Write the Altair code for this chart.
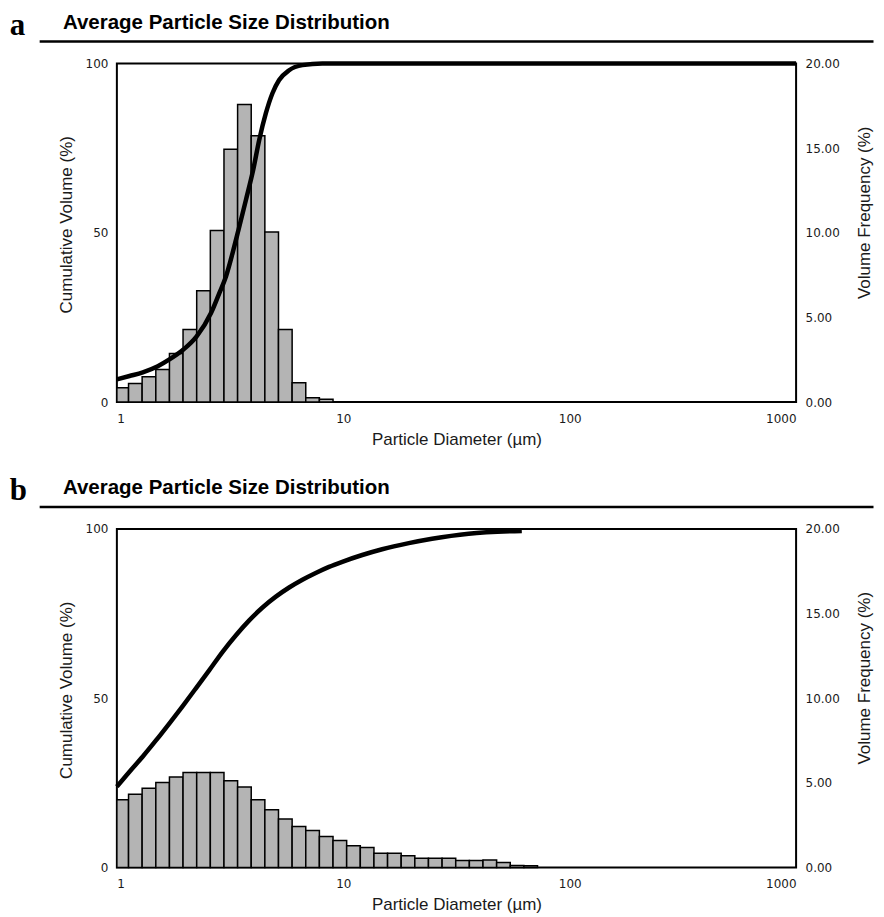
import altair as alt
import pandas as pd

# Bin edges of the size channels (µm)
EDGES = [1.0, 1.126, 1.293, 1.486, 1.707, 1.960, 2.252, 2.587, 2.972, 3.414,
         3.921, 4.504, 5.174, 5.944, 6.828, 7.843, 9.010, 10.35, 11.89, 13.66,
         15.69, 18.02, 20.70, 23.78, 27.32, 31.38, 36.05, 41.41, 47.57, 54.64,
         62.77, 72.10]

# Panel a: volume frequency (%) per channel
FREQ_A = [0.85, 1.10, 1.50, 1.93, 2.87, 4.28, 6.58, 10.13, 14.93, 17.58,
          15.73, 10.04, 4.28, 1.14, 0.26, 0.16]
# Panel a: cumulative volume (%)
CUM_A_D = [1.0, 1.137, 1.302, 1.516, 1.707, 1.967, 2.251, 2.605, 2.835, 3.033,
           3.243, 3.446, 3.715, 4.001, 4.253, 4.551, 4.866, 5.208, 5.766, 6.599,
           8.08, 10.0, 100.0, 1000.0]
CUM_A_V = [6.7, 7.7, 8.8, 10.6, 12.6, 15.5, 19.4, 26.3, 32.2, 37.1,
           44.0, 50.9, 59.7, 68.6, 77.4, 85.3, 91.2, 95.1, 98.0, 99.5,
           100.0, 100.0, 100.0, 100.0]

# Panel b: volume frequency (%) per channel
FREQ_B = [4.00, 4.33, 4.69, 5.02, 5.34, 5.61, 5.61, 5.61, 5.12, 4.75,
          4.00, 3.41, 2.86, 2.42, 2.19, 1.83, 1.60, 1.28, 1.18, 0.85,
          0.85, 0.69, 0.55, 0.55, 0.55, 0.41, 0.41, 0.45, 0.30, 0.12, 0.10]
# Panel b: cumulative volume (%)
CUM_B_D = [1.0, 1.137, 1.302, 1.491, 1.707, 1.953, 2.238, 2.561, 2.931, 3.357,
           3.842, 4.398, 5.037, 5.766, 6.599, 7.556, 8.65, 9.90, 12.13, 14.85,
           19.47, 24.66, 35.79, 61.44]
CUM_B_V = [23.9, 28.3, 32.8, 37.6, 42.6, 47.7, 53.0, 58.3, 63.7, 68.6,
           73.0, 76.8, 80.0, 82.7, 85.0, 87.0, 88.8, 90.3, 92.3, 94.0,
           95.8, 97.1, 98.6, 99.4]

TITLE = "Average Particle Size Distribution"
X_TICKS = [1, 10, 100, 1000]
LEFT_TICKS = [0, 50, 100]
RIGHT_TICKS = [0, 5, 10, 15, 20]

SANS = "Liberation Sans, Arial, sans-serif"
TICKF = "DejaVu Sans, Verdana, sans-serif"
SERIF = "Liberation Serif, Times New Roman, serif"
W, H = 680, 339
TXT = "#1a1a1a"


def panel(letter, freq, cum_d, cum_v):
    n = len(freq)
    bars_df = pd.DataFrame({"lo": EDGES[:n], "hi": EDGES[1:n + 1], "freq": freq})
    cum_df = pd.DataFrame({"d": cum_d, "cum": cum_v})

    xscale = alt.Scale(type="log", domain=[1, 1000], nice=False)
    xaxis = alt.Axis(values=X_TICKS, format="d", title="Particle Diameter (µm)",
                     domain=False, ticks=False, grid=False, labelPadding=11,
                     labelFontSize=12, labelFont=TICKF, labelColor=TXT,
                     titleFont=SANS, titleFontSize=17, titleFontWeight="normal",
                     titleColor=TXT, titleBaseline="alphabetic", titleY=42.5)

    bars = alt.Chart(bars_df).mark_bar(
        fill="#b4b4b4", stroke="black", strokeWidth=1.5
    ).encode(
        x=alt.X("lo:Q", scale=xscale, axis=xaxis),
        x2="hi",
        y=alt.Y("freq:Q", scale=alt.Scale(domain=[0, 20], nice=False),
                axis=alt.Axis(orient="right", values=RIGHT_TICKS, format=".2f",
                              title="Volume Frequency (%)", domain=False,
                              ticks=False, grid=False, labelPadding=9,
                              labelFontSize=12, labelFont=TICKF, labelColor=TXT,
                              titleFont=SANS, titleFontSize=17,
                              titleFontWeight="normal", titleColor=TXT,
                              titleAngle=270, titleBaseline="alphabetic",
                              titleX=73.5, titleY=149)),
        y2=alt.datum(0),
    )

    line = alt.Chart(cum_df).mark_line(
        color="black", strokeWidth=4.5, interpolate="monotone"
    ).encode(
        x=alt.X("d:Q", scale=xscale, axis=xaxis),
        y=alt.Y("cum:Q", scale=alt.Scale(domain=[0, 100], nice=False),
                axis=alt.Axis(orient="left", values=LEFT_TICKS,
                              title="Cumulative Volume (%)", domain=False,
                              ticks=False, grid=False, labelPadding=9,
                              labelFontSize=12, labelFont=TICKF, labelColor=TXT,
                              titleFont=SANS, titleFontSize=17,
                              titleFontWeight="normal", titleColor=TXT,
                              titleAngle=270, titleBaseline="alphabetic",
                              titleX=-45, titleY=161)),
    )

    lab = alt.Chart(pd.DataFrame({"t": [letter]})).mark_text(
        font=SERIF, fontSize=31, fontWeight="bold", align="left",
        baseline="alphabetic", color="black"
    ).encode(x=alt.value(-107.3), y=alt.value(-28.5), text="t:N")

    ttl = alt.Chart(pd.DataFrame({"t": [TITLE]})).mark_text(
        font=SANS, fontSize=20.5, fontWeight="bold", align="left",
        baseline="alphabetic", color="black"
    ).encode(x=alt.value(-54), y=alt.value(-34.5), text="t:N")

    rule = alt.Chart(pd.DataFrame({"t": [0]})).mark_rule(
        color="black", strokeWidth=2.5
    ).encode(x=alt.value(-77.3), x2=alt.value(757.5), y=alt.value(-22))

    return alt.layer(bars, line, lab, ttl, rule).resolve_scale(
        y="independent"
    ).properties(width=W, height=H)


chart = alt.vconcat(
    panel("a", FREQ_A, CUM_A_D, CUM_A_V),
    panel("b", FREQ_B, CUM_B_D, CUM_B_V),
    spacing=25,
).properties(
    padding={"left": 0, "top": 0, "right": 0, "bottom": 0},
    background="white",
).configure_view(
    stroke="black", strokeWidth=2
)

chart.save("out.html", embed_options={"renderer": "svg", "actions": False})
